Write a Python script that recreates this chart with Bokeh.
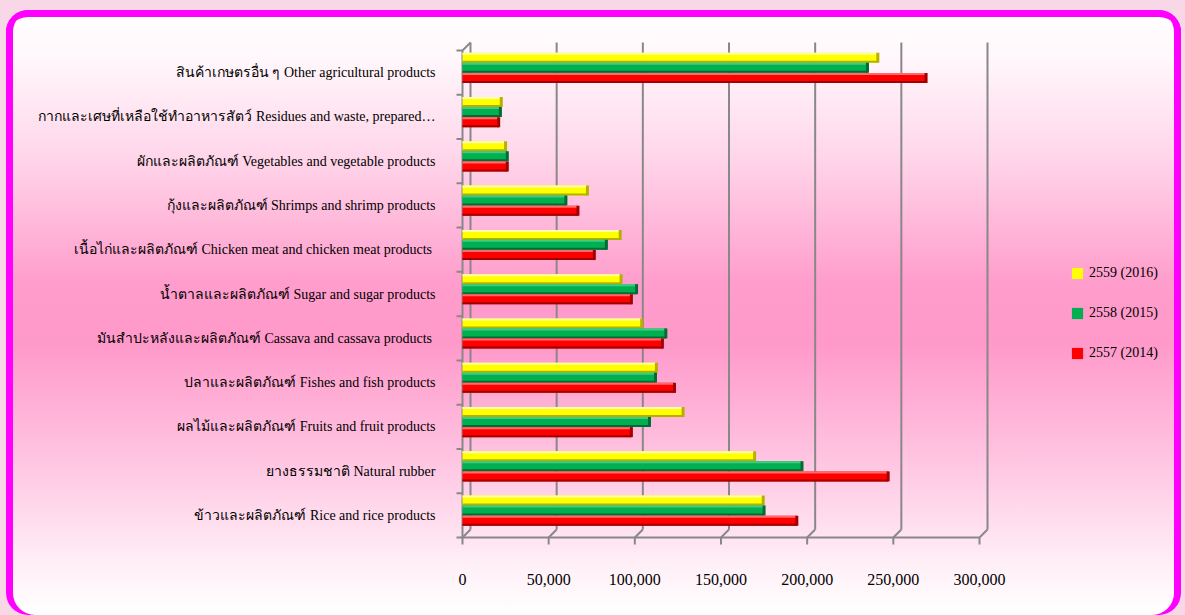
from bokeh.plotting import figure
from bokeh.models import (ColumnDataSource, FactorRange, Range1d, FixedTicker,
                          NumeralTickFormatter, Legend, LegendItem)
from bokeh.transform import dodge
from bokeh.embed import file_html
from bokeh.resources import INLINE

# ---------------- data (bottom category first, as in the chart) ----------------
categories = [
    "ข้าวและผลิตภัณฑ์ Rice and rice products",
    "ยางธรรมชาติ Natural rubber",
    "ผลไม้และผลิตภัณฑ์ Fruits and fruit products",
    "ปลาและผลิตภัณฑ์ Fishes and fish products",
    "มันสำปะหลังและผลิตภัณฑ์ Cassava and cassava products ",
    "น้ำตาลและผลิตภัณฑ์ Sugar and sugar products",
    "เนื้อไก่และผลิตภัณฑ์ Chicken meat and chicken meat products ",
    "กุ้งและผลิตภัณฑ์ Shrimps and shrimp products",
    "ผักและผลิตภัณฑ์ Vegetables and vegetable products",
    "กากและเศษที่เหลือใช้ทำอาหารสัตว์ Residues and waste, prepared…",
    "สินค้าเกษตรอื่น ๆ Other agricultural products",
]
y2557 = [194000, 247000, 98000, 123000, 116000, 98000, 76500, 67000, 26000, 21000, 269000]
y2558 = [175000, 197000, 108500, 112000, 118000, 101000, 83500, 60000, 26000, 22000, 235000]
y2559 = [174500, 169500, 128000, 112500, 104000, 92000, 91500, 72500, 25000, 22500, 241000]
series_labels = ["2557 (2014)", "2558 (2015)", "2559 (2016)"]
x_ticks = [0, 50000, 100000, 150000, 200000, 250000, 300000]

# ---------------- geometry (screen px, canvas coordinates) ----------------
W, H = 1175, 605
FL, FR, FT, FB = 447, 1154, 30, 537
X0_PX = 456          # canvas x of value 0 (front axis)
X_SPAN_PX = 517      # px between 0 and last tick
CAT_PX = 44.27       # px per category
PAD_PX = 10

PX = x_ticks[-1] / X_SPAN_PX
PY = 1.0 / CAT_PX
DX, DY = 8 * PX, 8 * PY
n = len(categories)

x_range = Range1d(-(X0_PX - FL) * PX, (FR - X0_PX) * PX)
y_range = FactorRange(factors=categories, factor_padding=0,
                      range_padding=PAD_PX * PY, range_padding_units="absolute")

p = figure(width=W, height=H, x_range=x_range, y_range=y_range,
           output_backend="svg", toolbar_location=None,
           min_border_left=FL, min_border_right=W - FR,
           min_border_top=FT, min_border_bottom=H - FB)
p.border_fill_color = None
p.background_fill_color = None
p.outline_line_color = None
p.grid.visible = False
p.styles = {
    "margin-left": "6px",
    "margin-top": "10px",
    "background": "linear-gradient(180deg, #ffffff 0%, #fff7fb 8%, #ffd4e9 25%, #ff9dcc 45%, "
                  "#ff99ca 55%, #ffc6e2 75%, #fff0f7 92%, #ffffff 100%)",
    "border-radius": "22px",
    "box-shadow": "0 0 0 40px #f8d8e6, inset 7px 0 0 0 #ff00ff, "
                  "inset -7px 0 0 0 #ff00ff, inset 0 7px 0 0 #ff00ff",
}

gray = "#888888"
back_x = [v + DX for v in x_ticks]
m = len(x_ticks)
# back-wall gridlines
p.segment(x0=back_x, y0=[DY] * m, x1=back_x, y1=[n + DY] * m, line_color=gray, line_width=2)
# floor slants
p.segment(x0=x_ticks, y0=[0] * m, x1=back_x, y1=[DY] * m, line_color=gray, line_width=2)
# bottom ticks
p.segment(x0=x_ticks, y0=[0] * m, x1=x_ticks, y1=[-7 * PY] * m, line_color=gray, line_width=2)
# front axes
p.segment(x0=[0, 0, 0], y0=[0, 0, n], x1=[x_ticks[-1], 0, DX], y1=[0, n, n + DY],
          line_color=gray, line_width=2)
# left ticks at category boundaries
ks = list(range(n + 1))
p.segment(x0=[-6 * PX] * len(ks), y0=ks, x1=[0] * len(ks), y1=ks, line_color=gray, line_width=2)

src = ColumnDataSource(dict(cat=categories, y2557=y2557, y2558=y2558, y2559=y2559))
BAR_H = 10 * PY
specs = [
    ("y2559", 0.335, "#ffff00", "#ffffa8", "#b5b000"),
    ("y2558", 0.11, "#00b050", "#40cc80", "#006b35"),
    ("y2557", -0.12, "#ff0000", "#ff6a6a", "#a00000"),
]
rends = {}
for col, off, c, hi, dk in specs:
    r = p.hbar(y=dodge("cat", off, range=p.y_range), left=0, right=col, height=BAR_H,
               fill_color=c, line_color=None, source=src)
    p.hbar(y=dodge("cat", off + BAR_H / 2 - 1 * PY, range=p.y_range), left=0, right=col,
           height=2 * PY, fill_color=hi, line_color=None, source=src)
    p.hbar(y=dodge("cat", off - BAR_H / 2 + 1 * PY, range=p.y_range), left=0, right=col,
           height=2 * PY, fill_color=dk, line_color=None, source=src)
    p.rect(x=col, y=dodge("cat", off, range=p.y_range), width=3, width_units="screen",
           height=BAR_H, fill_color=dk, line_color=None, source=src)
    rends[col] = r

legend = Legend(items=[LegendItem(label=series_labels[2], renderers=[rends["y2559"]]),
                       LegendItem(label=series_labels[1], renderers=[rends["y2558"]]),
                       LegendItem(label=series_labels[0], renderers=[rends["y2557"]])],
                location=(617, 186), glyph_width=14, glyph_height=14, label_height=14,
                spacing=24, label_standoff=5, padding=0, margin=0,
                background_fill_alpha=0, border_line_color=None,
                label_text_font="Liberation Serif", label_text_font_size="14px",
                label_text_color="black")
p.add_layout(legend)

p.yaxis.axis_line_color = None
p.yaxis.major_tick_line_color = None
p.yaxis.minor_tick_line_color = None
p.yaxis.major_label_standoff = 12
p.yaxis.major_label_text_font = "Liberation Serif"
p.yaxis.major_label_text_font_size = "14px"
p.yaxis.major_label_text_color = "black"

p.xaxis.ticker = FixedTicker(ticks=x_ticks)
p.xaxis.formatter = NumeralTickFormatter(format="0,0")
p.xaxis.axis_line_color = None
p.xaxis.major_tick_line_color = None
p.xaxis.minor_tick_line_color = None
p.xaxis.major_label_standoff = 20
p.xaxis.major_label_text_font = "Liberation Serif"
p.xaxis.major_label_text_font_size = "16px"
p.xaxis.major_label_text_color = "black"

open("out.html", "w").write(file_html(p, INLINE))
